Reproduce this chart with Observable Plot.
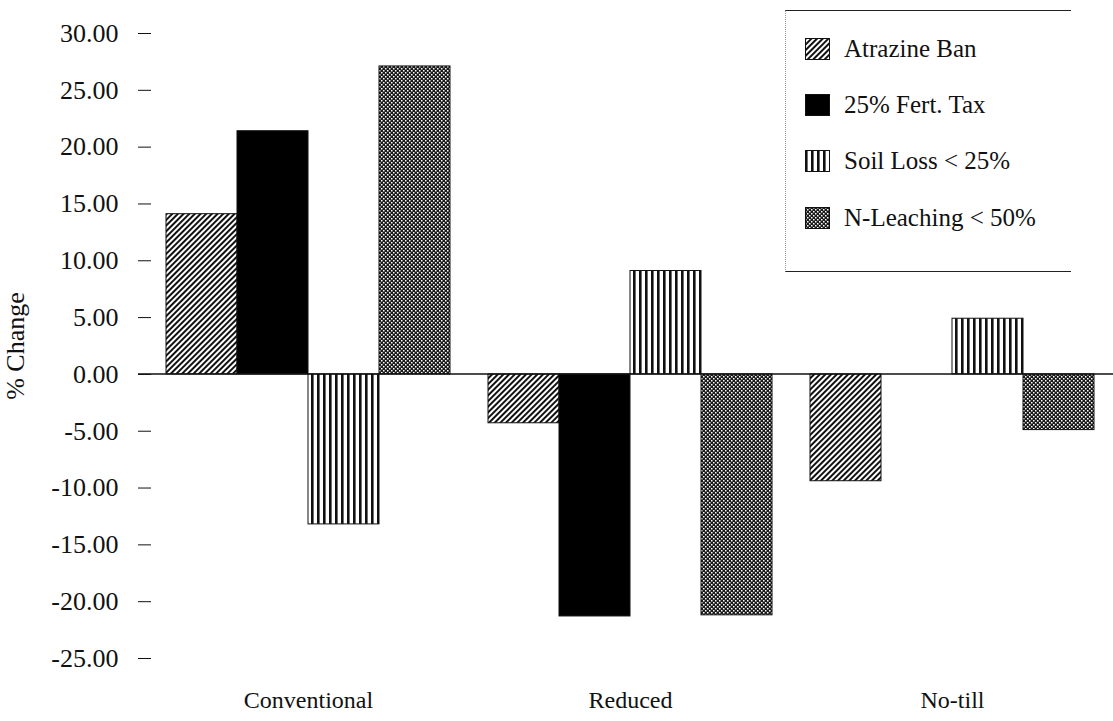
<!DOCTYPE html>
<html><head><meta charset="utf-8">
<script src="https://cdn.jsdelivr.net/npm/d3@7"></script>
<script src="https://cdn.jsdelivr.net/npm/@observablehq/plot@0.6"></script>
<style>
body{margin:0;background:#fff;}
#wrap{position:relative;width:1113px;height:721px;font-family:"Liberation Serif","Times New Roman",serif;}
#legend{position:absolute;left:785px;top:10px;width:286px;height:262px;border-top:1.5px solid #222;border-bottom:1.5px solid #222;border-left:1px dotted #999;box-sizing:border-box;}
.item{position:absolute;left:19px;height:26px;display:flex;align-items:center;font-size:25px;color:#111;white-space:nowrap;}
.item svg{margin-right:14px;}
</style></head><body>
<svg width="0" height="0" style="position:absolute">
<defs>
<pattern id="p-hatch" patternUnits="userSpaceOnUse" width="4" height="4" patternTransform="rotate(45)">
<rect width="4" height="4" fill="#fff"/><rect width="2" height="4" fill="#111"/></pattern>
<pattern id="p-vert" patternUnits="userSpaceOnUse" width="6" height="6">
<rect width="6" height="6" fill="#fff"/><rect width="2.6" height="6" fill="#111"/></pattern>
<pattern id="p-dots" patternUnits="userSpaceOnUse" width="4" height="4">
<rect width="4" height="4" fill="#1a1a1a"/><rect x="0" y="0" width="1.5" height="1.5" fill="#fff"/><rect x="2" y="2" width="1.5" height="1.5" fill="#fff"/></pattern>
</defs></svg>
<div id="wrap"><div id="chart"></div><div id="legend"></div></div>
<script>
const systems = ["Conventional", "Reduced", "No-till"];
const policies = ["Atrazine Ban", "25% Fert. Tax", "Soil Loss < 25%", "N-Leaching < 50%"];
const atrazineBan = [14.1, -4.3, -9.4];
const fertTax = [21.4, -21.3, 0];
const soilLoss = [-13.2, 9.1, 4.9];
const nLeaching = [27.1, -21.2, -4.9];
const yTicks = [-25, -20, -15, -10, -5, 0, 5, 10, 15, 20, 25, 30];
const fills = ["url(#p-hatch)", "#000", "url(#p-vert)", "url(#p-dots)"];

const seriesValues = [atrazineBan, fertTax, soilLoss, nLeaching];
const table = [];
systems.forEach((s, i) => policies.forEach((p, j) => {
  if (seriesValues[j][i] !== 0) table.push({system: s, policy: p, value: seriesValues[j][i]});
}));

const chart = Plot.plot({
  width: 1113, height: 721,
  marginLeft: 148, marginRight: 0, marginTop: 33, marginBottom: 63,
  style: {fontFamily: "Liberation Serif, Times New Roman, serif", fontSize: "24px", color: "#111", background: "#fff"},
  fx: {domain: systems, paddingInner: 0.1115, paddingOuter: 0.05, label: null},
  x: {domain: policies, padding: 0, axis: null},
  y: {domain: [-25, 30]},
  color: {domain: policies, range: fills},
  marks: [
    Plot.axisY({ticks: yTicks, tickFormat: d => d.toFixed(2), tickSize: 13, tickPadding: 20, fontSize: 26, dx: -14,
      label: "% Change", labelAnchor: "center", labelOffset: 160, labelArrow: "none"}),
    Plot.axisFx({anchor: "bottom", fontSize: 24, tickSize: 0, tickPadding: 32, label: null}),
    Plot.barY(table, {fx: "system", x: "policy", y: "value", fill: "policy", stroke: "#111", strokeWidth: 1})
  ]
});
// continuous zero baseline across all facets, positioned with the plot's own y scale
const y0 = chart.scale("y").apply(0);
const ns = "http://www.w3.org/2000/svg";
const line = document.createElementNS(ns, "line");
line.setAttribute("x1", 138); line.setAttribute("x2", 1113);
line.setAttribute("y1", y0); line.setAttribute("y2", y0);
line.setAttribute("stroke", "#111"); line.setAttribute("stroke-width", 1.5);
chart.appendChild(line);
document.getElementById("chart").appendChild(chart);

const legend = document.getElementById("legend");
const tops = [25, 81, 137, 194];
policies.forEach((p, j) => {
  const d = document.createElement("div");
  d.className = "item";
  d.style.top = tops[j] + "px";
  d.innerHTML = `<svg width="25" height="22"><rect x="0.5" y="0.5" width="24" height="21" fill="${fills[j]}" stroke="#111" stroke-width="1"/></svg><span>${p.replace("<", "&lt;")}</span>`;
  legend.appendChild(d);
});
</script>
</body></html>
